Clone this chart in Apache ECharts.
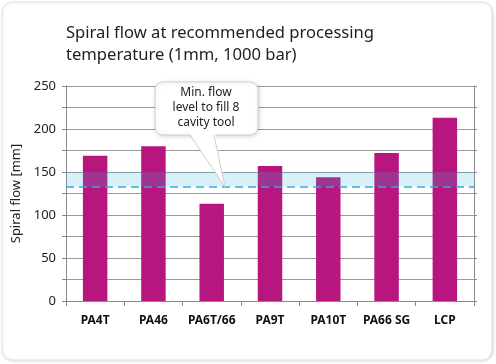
<!DOCTYPE html>
<html><head><meta charset="utf-8">
<script src="https://cdn.jsdelivr.net/npm/echarts@6/dist/echarts.min.js"></script>
<style>html,body{margin:0;padding:0;background:#fff}#c{width:496px;height:364px}</style>
</head><body><div id="c"></div>
<script>
var categories = ['PA4T','PA46','PA6T/66','PA9T','PA10T','PA66 SG','LCP'];
var spiralFlow = [169, 180, 113, 157, 144, 172, 213];
var bandRange = [133, 150];
var minFlowLine = 133;
var titleLines = ['Spiral flow at recommended processing', 'temperature (1mm, 1000 bar)'];
var calloutText = ['Min. flow', 'level to fill 8', 'cavity tool'];

var chart = echarts.init(document.getElementById('c'), null, {renderer:'canvas'});
var gridColor = '#9a9a9a';
var option = {
  animation: false,
  backgroundColor: '#fff',
  title: {
    text: titleLines.join('\n'), left: 61, top: 17,
    textStyle: {fontFamily: 'Noto Sans', fontSize: 16.6, fontWeight: 'normal', color: '#1e1e1e', lineHeight: 22}
  },
  grid: {left: 66, right: 22, top: 86, bottom: 63},
  xAxis: {
    type: 'category', data: categories,
    axisLine: {lineStyle: {color: '#888'}},
    axisTick: {show: true, length: 5, lineStyle: {color: '#888'}},
    axisLabel: {interval: 0, margin: 14, fontFamily: 'Noto Sans', fontSize: 12, fontWeight: 'bold', color: '#111'}
  },
  yAxis: [{
    type: 'value', min: 0, max: 250, interval: 25,
    name: 'Spiral flow [mm]', nameLocation: 'middle', nameGap: 34, nameRotate: 90,
    nameTextStyle: {fontFamily: 'Noto Sans', fontSize: 13, color: '#222'},
    axisLine: {show: true, lineStyle: {color: '#888'}},
    axisTick: {show: true, length: 4, lineStyle: {color: '#888'}},
    axisLabel: {margin: 10, fontFamily: 'Noto Sans', fontSize: 13, color: '#222',
      formatter: function(v){ return v % 50 === 0 ? String(v) : ''; }},
    splitLine: {show: true, lineStyle: {color: gridColor, width: 1}}
  }, {
    type: 'value', min: 0, max: 250, interval: 25, position: 'right',
    axisLine: {show: true, lineStyle: {color: '#888'}},
    axisTick: {show: true, length: 3, lineStyle: {color: '#888'}},
    axisLabel: {show: false}, splitLine: {show: false}
  }],
  series: [{
    type: 'bar', data: spiralFlow, barWidth: '42%', z: 2,
    itemStyle: {color: '#b8167f'}
  }, {
    type: 'line', data: categories.map(function(){return null;}), z: 5, silent: true,
    symbol: 'none',
    markArea: {z: 10, silent: true, itemStyle: {color: 'rgba(60,180,220,0.2)'},
      data: [[{yAxis: bandRange[0]}, {yAxis: bandRange[1]}]]},
    markLine: {z: 11, silent: true, symbol: 'none', label: {show: false},
      lineStyle: {color: '#36a9d8', type: [8, 5], width: 1.5},
      data: [{yAxis: minFlowLine}]}
  }],
  graphic: [{
    type: 'rect', shape: {x: 2, y: 2, width: 490, height: 358, r: 10}, z: -10,
    style: {fill: '#fff', stroke: '#e2e2e2', lineWidth: 1, shadowBlur: 3, shadowColor: 'rgba(0,0,0,0.12)', shadowOffsetX: 1, shadowOffsetY: 1}
  }, {
    type: 'rect', z: 100, shape: {x: 155, y: 82, width: 103, height: 53, r: 8},
    style: {fill: '#fff', stroke: '#cfcfcf', lineWidth: 1, shadowBlur: 4, shadowColor: 'rgba(0,0,0,0.15)', shadowOffsetX: 1, shadowOffsetY: 1}
  }, {
    type: 'polygon', z: 101, shape: {points: [[189, 132], [215, 132], [225, 187]]},
    style: {fill: '#fff', stroke: null}
  }, {
    type: 'polyline', z: 102, shape: {points: [[190, 135], [225, 187], [214, 135]]},
    style: {fill: null, stroke: '#cfcfcf', lineWidth: 1}
  }, {
    type: 'text', z: 103, x: 206, y: 108,
    style: {text: calloutText.join('\n'), fontFamily: 'Noto Sans', fontSize: 12, lineHeight: 15, fill: '#222', align: 'center', verticalAlign: 'middle'}
  }]
};
chart.setOption(option);
</script></body></html>
